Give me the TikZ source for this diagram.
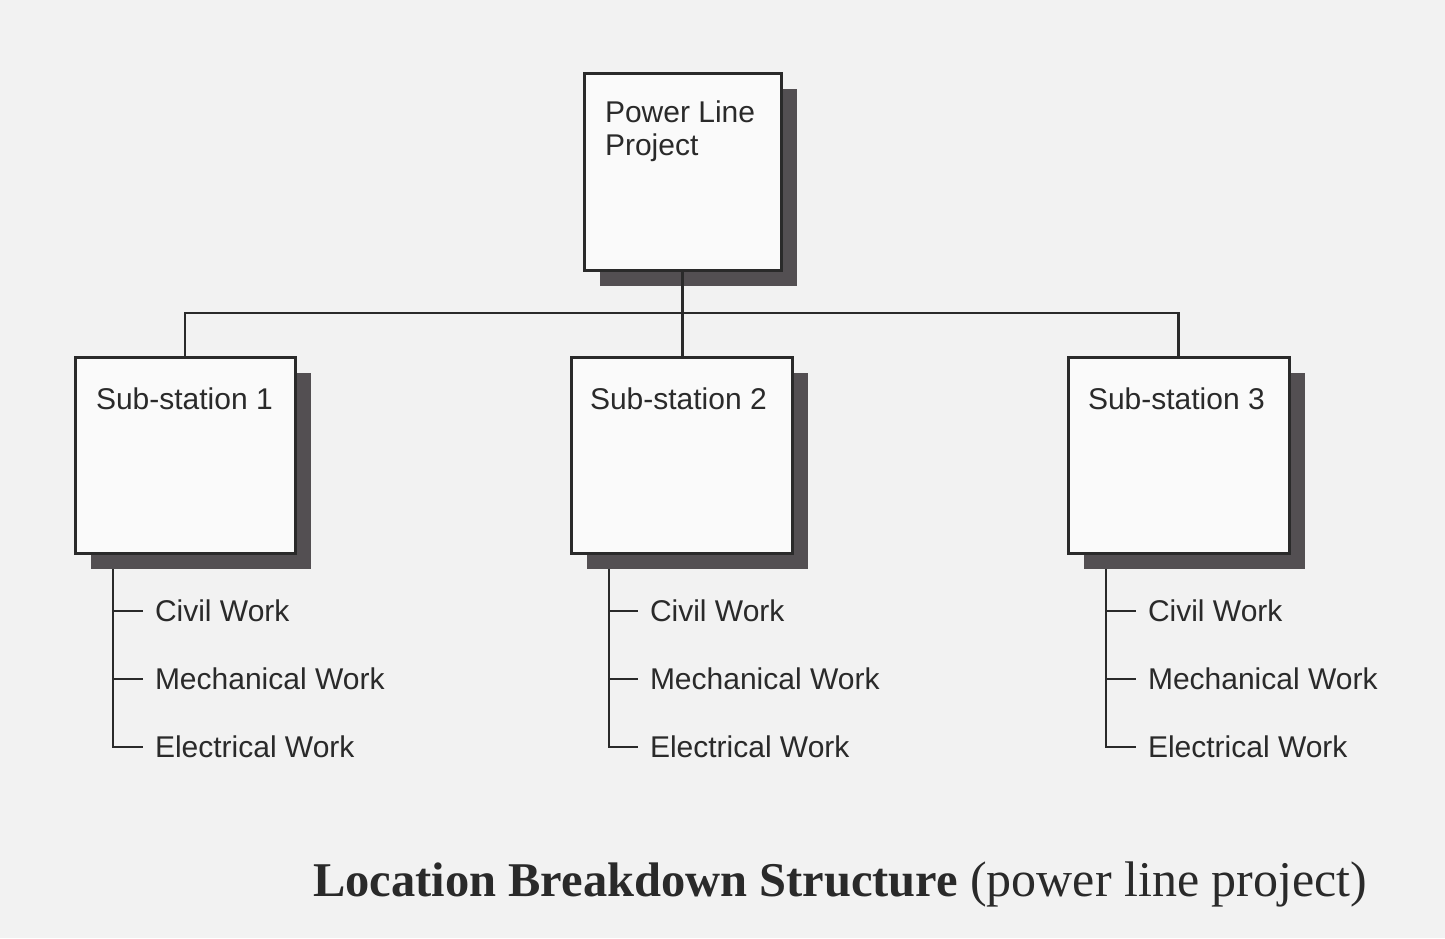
\documentclass[tikz,border=0pt]{standalone}
\usepackage{fontspec}
\setmainfont{Liberation Sans}
\newfontfamily\capfont{Liberation Serif}
\usetikzlibrary{calc}
\definecolor{paper}{HTML}{F2F2F2}
\definecolor{boxfill}{HTML}{FAFAFA}
\definecolor{ink}{HTML}{2A2A2A}
\definecolor{shade}{HTML}{534F52}
\pgfdeclarelayer{paperlayer}
\pgfdeclarelayer{shadowlayer}
\pgfsetlayers{paperlayer,shadowlayer,main}
\begin{document}
\begin{tikzpicture}[x=1pt,y=-1pt,
  wbox/.style={draw=ink, line width=3pt, fill=boxfill, rectangle, anchor=north west,
               inner sep=0pt, outer sep=0pt},
  conn/.style={draw=ink, line width=2.6pt},
  lbl/.style={font=\fontsize{30}{33}\selectfont, text=ink, inner sep=0pt, outer sep=0pt},
  item/.style={font=\fontsize{30}{32}\selectfont, text=ink, anchor=west, inner xsep=12pt,
               inner ysep=0pt, outer sep=0pt, text height=21.5pt, text depth=0pt},
  shadowfill/.style={fill=shade}]
\begin{pgfonlayer}{paperlayer}
\fill[paper] (0,0) rectangle (1445,938);
\end{pgfonlayer}
\useasboundingbox (0,0) rectangle (1445,938);

% boxes
\node[wbox, minimum width=197pt, minimum height=197pt] (top) at (584,73) {};
\node[wbox, minimum width=220pt, minimum height=196pt] (s1) at (75,357) {};
\node[wbox, minimum width=221pt, minimum height=196pt] (s2) at (571,357) {};
\node[wbox, minimum width=221pt, minimum height=196pt] (s3) at (1068,357) {};

% shadows
\begin{pgfonlayer}{shadowlayer}
\foreach \b in {top,s1,s2,s3}{
  \fill[shadowfill] ($(\b.north west)+(16,16)$) rectangle ($(\b.south east)+(16,16)$);
}
\end{pgfonlayer}

% box labels
\node[lbl, anchor=north west, align=left] (ttop) at (605,100.5) {Power Line\\Project};
\node[lbl, anchor=base west] (t1) at (96,409) {Sub-station 1};
\node[lbl, anchor=base west] (t2) at (590,409) {Sub-station 2};
\node[lbl, anchor=base west] (t3) at (1088,409) {Sub-station 3};

% tree connectors
\draw[conn] (top.south) -- (top.south |- s2.north);
\draw[conn] (s1.north) -- ++(0,-44) -| (s3.north);

% children
\coordinate (st1) at ($(s1.south west)+(38,16)$);
\coordinate (st2) at ($(s2.south west)+(38,16)$);
\coordinate (st3) at ($(s3.south west)+(38,16)$);

\node[item] (c1) at (143,611) {Civil Work};
\node[item] (m1) at (143,679) {Mechanical Work};
\node[item] (e1) at (143,747) {Electrical Work};
\node[item] (c2) at (638,611) {Civil Work};
\node[item] (m2) at (638,679) {Mechanical Work};
\node[item] (e2) at (638,747) {Electrical Work};
\node[item] (c3) at (1136,611) {Civil Work};
\node[item] (m3) at (1136,679) {Mechanical Work};
\node[item] (e3) at (1136,747) {Electrical Work};

\foreach \i in {1,2,3}{
  \draw[conn] (st\i) |- (e\i.west);
  \draw[conn] (c\i.west -| st\i) -- (c\i.west);
  \draw[conn] (m\i.west -| st\i) -- (m\i.west);
}

% caption
\node[anchor=base west, inner sep=0pt, text=ink,
      font=\capfont\fontsize{48.5}{56}\selectfont] (cap) at (313,896)
  {\textbf{Location Breakdown Structure} {\fontsize{50}{56}\selectfont(power line project)}};
\end{tikzpicture}
\end{document}
